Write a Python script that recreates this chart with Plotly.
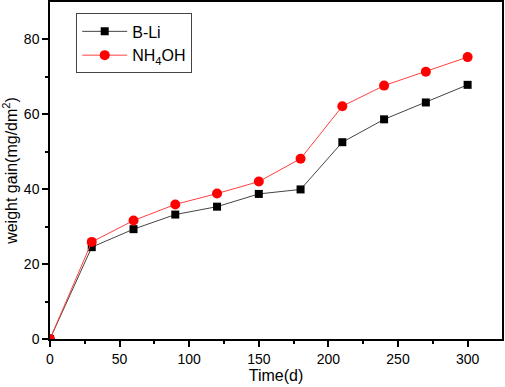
import plotly.graph_objects as go

days = [0, 30, 60, 90, 120, 150, 180, 210, 240, 270, 300]
b_li = [0, 24.5, 29.3, 33.2, 35.3, 38.7, 39.9, 52.5, 58.6, 63.1, 67.8]
nh4oh = [0, 25.9, 31.6, 35.9, 38.8, 42.0, 48.1, 62.1, 67.6, 71.3, 75.2]

fig = go.Figure()
fig.add_trace(go.Scatter(x=days, y=b_li, name="B-Li", mode="lines+markers",
                         line=dict(color="#444444", width=1),
                         marker=dict(symbol="square", size=8, color="black")))
fig.add_trace(go.Scatter(x=days, y=nh4oh, name="NH<sub>4</sub>OH", mode="lines+markers",
                         line=dict(color="#ff4040", width=1),
                         marker=dict(symbol="circle", size=10, color="#ff0000")))

axis_common = dict(showline=True, linecolor="black", linewidth=1.5, mirror=True,
                   showgrid=False, zeroline=False, ticks="outside", ticklen=6,
                   tickwidth=1.5, tickcolor="black", automargin=False,
                   tickfont=dict(family="Arial, Liberation Sans", size=14, color="black"))

fig.update_xaxes(range=[0, 324.7], tickvals=[0, 50, 100, 150, 200, 250, 300],
                 minor=dict(ticks="outside", ticklen=3, tickwidth=1.5, tickcolor="black", dtick=25),
                 title=dict(text="Time(d)", font=dict(family="Arial, Liberation Sans", size=16, color="black"), standoff=2),
                 **axis_common)
fig.update_yaxes(range=[0, 89.9], tickvals=[0, 20, 40, 60, 80],
                 minor=dict(ticks="outside", ticklen=3, tickwidth=1.5, tickcolor="black", dtick=10),
                 title=dict(text="weight gain(mg/dm<sup>2</sup>)", font=dict(family="Arial, Liberation Sans", size=16, color="black"), standoff=3),
                 **axis_common)

fig.update_layout(width=505, height=387, margin=dict(l=50, r=3, t=2, b=48),
                  plot_bgcolor="white", paper_bgcolor="white",
                  legend=dict(x=0.058, y=0.966, xanchor="left", yanchor="top",
                              bordercolor="#444444", borderwidth=1, bgcolor="white",
                              font=dict(family="Arial, Liberation Sans", size=16, color="black"),
                              itemwidth=45, tracegroupgap=0))
fig.write_html("out.html", config={"displayModeBar": False},
               post_script="document.body.style.margin='0';")
